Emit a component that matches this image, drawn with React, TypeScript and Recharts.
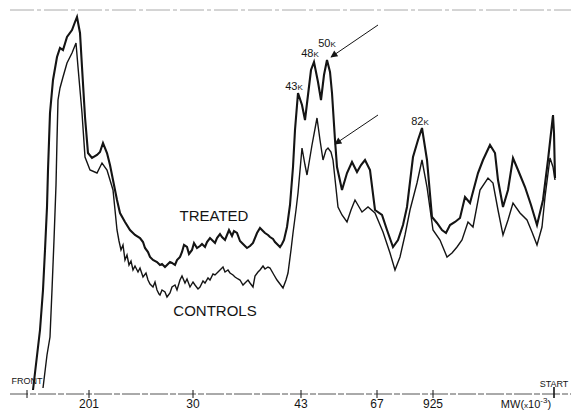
import { LineChart, Line, XAxis, YAxis, ReferenceLine, ReferenceDot } from 'recharts';

// densitometer scan: migration distance (front -> start) vs. optical density (arbitrary units)
const treatedPos = [
  33, 40, 43, 45, 47, 48, 50, 53, 57, 60, 63, 67, 72, 75, 77, 80, 82, 85, 88, 92, 97, 100, 103, 107, 110, 113, 117,
  120, 125, 130, 135,
  140, 143, 145, 148, 150, 153, 157, 160, 162, 165, 167, 170, 172, 175, 177, 180, 182, 184, 187, 189, 192, 194, 197,
  200, 202, 205, 207, 210, 212, 215, 217, 220, 222, 225, 227, 229, 232, 234, 237, 240, 242, 245, 247, 250, 253, 257,
  260, 263, 265, 268, 270, 273, 275, 278, 280, 282, 284,
  287, 290, 293, 295, 298, 302, 305, 308, 311, 314, 318, 321, 324, 327, 330, 332, 335, 337, 342, 347, 352, 357, 361,
  365, 370, 375, 382, 387, 393, 398, 403, 407, 413, 418, 422, 427, 432, 437, 442, 446, 450, 455, 460, 465, 470, 474,
  478, 483, 490, 495, 498, 503, 508, 513, 518, 525, 531, 537, 543, 548, 553, 554, 555,
];
const treatedOd = [
  1, 61, 101, 141, 184, 221, 278, 311, 334, 343, 341, 354, 361, 369, 374, 358, 324, 274, 238, 233, 236, 239, 248, 238,
  226, 211, 191, 178, 169, 161, 156,
  153, 149, 143, 139, 134, 131, 129, 126, 127, 124, 126, 129, 128, 126, 131, 134, 139, 146, 144, 137, 141, 148, 143,
  145, 147, 144, 149, 153, 151, 148, 153, 157, 154, 151, 156, 161, 155, 160, 158, 150, 148, 145, 143, 145, 148, 158,
  163, 160, 158, 156, 154, 152, 149, 146, 144, 147, 151,
  164, 186, 224, 261, 298, 286, 271, 296, 321, 329, 309, 291, 316, 331, 319, 298, 251, 224, 201, 218, 229, 219, 226,
  231, 221, 181, 176, 161, 144, 151, 166, 184, 234, 251, 263, 231, 174, 168, 161, 158, 166, 169, 173, 194, 188, 203,
  218, 231, 246, 238, 211, 184, 201, 233, 221, 204, 186, 166, 191, 231, 276, 258, 213,
];

const controlPos = [
  43, 47, 50, 52, 54, 56, 57, 58, 60, 63, 67, 72, 76, 78, 82, 85, 90, 97, 102, 107, 110, 113,
  117, 119, 121, 123, 125, 127, 129, 131, 133, 135, 138, 140, 143, 146, 148, 150, 153, 155, 157, 159, 160, 162, 165,
  167, 170, 172, 175, 177, 180, 182, 185, 187, 190, 193, 195, 198, 200, 203, 205, 208, 210, 213, 215, 218, 220, 223,
  225, 228, 230, 233, 235, 238, 240, 243, 245, 248, 250, 253, 255, 258, 260, 263, 265, 268, 270, 274, 277, 280, 283,
  286, 288,
  291, 293, 296, 298, 302, 305, 307, 312, 317, 320, 323, 326, 328, 331, 333, 338, 342, 347, 351, 355, 362, 368, 375,
  383, 390, 395, 400, 405, 410, 417, 422, 427, 433, 440, 447, 452, 457, 462, 468, 473, 480, 488, 493, 498, 503, 508,
  513, 520, 527, 532, 537, 542, 545, 550, 553, 555,
];
const controlOd = [
  3, 36, 54, 101, 151, 206, 251, 291, 303, 314, 328, 338, 348, 324, 278, 234, 221, 218, 228, 221, 211, 201,
  161, 150, 141, 146, 131, 136, 126, 130, 121, 125, 119, 123, 114, 118, 111, 107, 104, 109, 101, 97, 96, 101, 99, 94,
  98, 104, 106, 101, 111, 115, 108, 112, 104, 109, 106, 102, 104, 110, 108, 113, 111, 117, 116, 119, 121, 124, 119,
  121, 118, 116, 114, 112, 111, 106, 108, 111, 108, 104, 115, 119, 121, 125, 122, 124, 123, 116, 111, 107, 103, 111,
  118,
  141, 158, 181, 198, 243, 226, 216, 246, 273, 251, 231, 241, 243, 239, 231, 184, 176, 169, 181, 191, 179, 184, 178,
  159, 138, 121, 134, 156, 181, 208, 231, 204, 161, 151, 134, 138, 144, 151, 169, 164, 201, 213, 208, 181, 156, 171,
  188, 178, 171, 159, 146, 164, 194, 233, 224, 211,
];

const tickPos = [27, 89, 193, 301, 377, 433, 554];
const tickLabels = ['', '201', '30', '43', '67', '925', ''];

const peakNames = ['43', '48', '50', '82'];
const peakPos = [294, 310, 327, 420];
const peakOd = [305, 338, 348, 270];

const treatedData = treatedPos.map((x, i) => ({ x, y: treatedOd[i] }));
const controlData = controlPos.map((x, i) => ({ x, y: controlOd[i] }));

const FONT = '"Liberation Sans", Arial, Helvetica, sans-serif';
const INK = '#141414';

const MwTick = (props: any) => {
  const { x, y, payload } = props;
  const idx = tickPos.indexOf(payload.value);
  const first = idx === 0;
  const last = idx === tickPos.length - 1;
  return (
    <g fontFamily={FONT} fill={INK}>
      <line x1={x} x2={x} y1={last ? y - 7 : y - 4} y2={y + 4} stroke={INK} strokeWidth={last ? 1.6 : 1} />
      {tickLabels[idx] && (
        <text x={x} y={y + 14} textAnchor="middle" fontSize={12}>
          {tickLabels[idx]}
        </text>
      )}
      {first && (
        <text x={x} y={y - 10} textAnchor="middle" fontSize={9}>
          FRONT
        </text>
      )}
      {last && (
        <>
          <text x={x} y={y - 7} textAnchor="middle" fontSize={9}>
            START
          </text>
          <text x={x - 28} y={y + 14} textAnchor="middle" fontSize={11}>
            MW(<tspan fontSize={8}>x</tspan>10<tspan fontSize={8} dy={-5}>-3</tspan>
            <tspan dy={5}>)</tspan>
          </text>
        </>
      )}
    </g>
  );
};

const peakTag = (name: string) => (props: any) => {
  const { viewBox } = props;
  const cx = viewBox.x + viewBox.width / 2;
  const cy = viewBox.y + viewBox.height / 2;
  return (
    <text x={cx} y={cy + 4} textAnchor="middle" fontFamily={FONT} fontSize={11} fill={INK}>
      {name}
      <tspan fontSize={8}>K</tspan>
    </text>
  );
};

export default function App() {
  return (
    <div style={{ position: 'absolute', left: 0, top: 0, width: 571, height: 410, background: '#fff' }}>
      <LineChart width={571} height={410} data={treatedData} margin={{ top: 10, right: 0, left: 10, bottom: 0 }}>
        <defs>
          <marker id="arrowHead" viewBox="0 0 10 10" refX="9" refY="5" markerWidth="9" markerHeight="7" orient="auto">
            <path d="M0,0 L10,5 L0,10 z" fill={INK} />
          </marker>
        </defs>
        <XAxis
          type="number"
          dataKey="x"
          domain={[10, 571]}
          ticks={tickPos}
          tick={<MwTick />}
          tickLine={false}
          tickSize={0}
          tickMargin={0}
          height={16}
          interval={0}
          axisLine={{ stroke: '#555', strokeWidth: 1, strokeDasharray: '18 2 6 2' }}
        />
        <YAxis
          type="number"
          domain={[-3, 381]}
          width={0}
          tick={false}
          tickLine={false}
          axisLine={{ stroke: '#999', strokeWidth: 1, strokeDasharray: '20 3 3 3' }}
        />
        <ReferenceLine y={381} stroke="#aaa" strokeWidth={1} strokeDasharray="24 3 4 3" />
        <Line
          data={controlData}
          dataKey="y"
          type="linear"
          stroke={INK}
          strokeWidth={1.4}
          dot={false}
          isAnimationActive={false}
        />
        <Line
          data={treatedData}
          dataKey="y"
          type="linear"
          stroke={INK}
          strokeWidth={2.1}
          dot={false}
          isAnimationActive={false}
        />
        <ReferenceLine
          segment={[{ x: 378, y: 366 }, { x: 331, y: 334 }]}
          stroke={INK}
          strokeWidth={1}
          markerEnd="url(#arrowHead)"
          ifOverflow="visible"
        />
        <ReferenceLine
          segment={[{ x: 378, y: 276 }, { x: 335, y: 247 }]}
          stroke={INK}
          strokeWidth={1}
          markerEnd="url(#arrowHead)"
          ifOverflow="visible"
        />
        {peakNames.map((name, i) => (
          <ReferenceDot
            key={name}
            x={peakPos[i]}
            y={peakOd[i]}
            r={1}
            fill="none"
            stroke="none"
            ifOverflow="visible"
            label={{ content: peakTag(name) }}
          />
        ))}
        <ReferenceDot
          x={214}
          y={175}
          r={1}
          fill="none"
          stroke="none"
          label={{ value: 'TREATED', position: 'center', fontSize: 15, fill: INK, fontFamily: FONT }}
        />
        <ReferenceDot
          x={215}
          y={80}
          r={1}
          fill="none"
          stroke="none"
          label={{ value: 'CONTROLS', position: 'center', fontSize: 15, fill: INK, fontFamily: FONT }}
        />
      </LineChart>
    </div>
  );
}
